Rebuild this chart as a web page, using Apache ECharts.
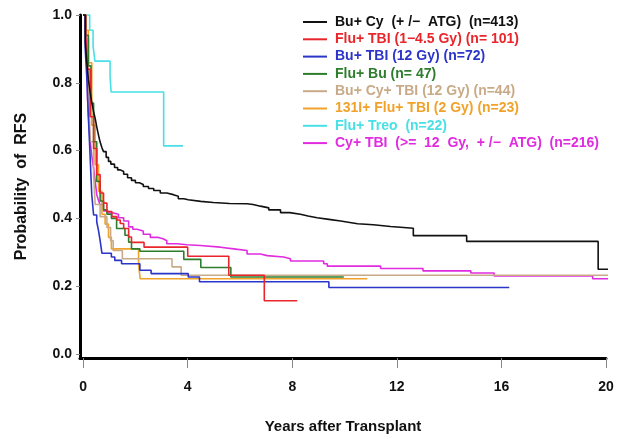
<!DOCTYPE html>
<html>
<head>
<meta charset="utf-8">
<script src="https://cdn.jsdelivr.net/npm/echarts@6/dist/echarts.min.js"></script>
<style>
html,body{margin:0;padding:0;background:#fff;}
#c{width:628px;height:439px;}
</style>
</head>
<body>
<div id="c"></div>
<script>
// Tick labels
const xTicks = [0, 4, 8, 12, 16, 20];
const yTicks = [0, 0.2, 0.4, 0.6, 0.8, 1.0];

// Series names (legend)
const names = [
  "Bu+ Cy  (+ /−  ATG)  (n=413)",
  "Flu+ TBI (1−4.5 Gy) (n= 101)",
  "Bu+ TBI (12 Gy) (n=72)",
  "Flu+ Bu (n= 47)",
  "Bu+ Cy+ TBI (12 Gy) (n=44)",
  "131I+ Flu+ TBI (2 Gy) (n=23)",
  "Flu+ Treo  (n=22)",
  "Cy+ TBI  (>=  12  Gy,  + /−  ATG)  (n=216)"
];

// Bu+Cy
const bucyT = [0, 0.08, 0.14, 0.2, 0.27, 0.33, 0.4, 0.46, 0.52, 0.59, 0.65, 0.72, 0.78, 0.88, 0.97, 1.06, 1.2, 1.32, 1.42, 1.55, 1.7, 1.85, 2.0, 2.15, 2.3, 2.5, 2.7, 2.95, 3.2, 3.45, 3.64, 3.85, 4.02, 4.5, 4.98, 5.6, 6.27, 6.5, 6.78, 7.1, 7.55, 7.9, 8.31, 8.6, 8.95, 9.4, 9.85, 10.2, 10.5, 11.1, 11.76, 12.63, 14.67, 19.7, 20.1];
const bucyS = [1.0, 0.92, 0.86, 0.81, 0.77, 0.742, 0.715, 0.695, 0.67, 0.645, 0.625, 0.608, 0.597, 0.58, 0.568, 0.56, 0.55, 0.543, 0.538, 0.53, 0.52, 0.512, 0.505, 0.5, 0.494, 0.488, 0.482, 0.475, 0.47, 0.465, 0.458, 0.455, 0.45, 0.447, 0.444, 0.443, 0.441, 0.436, 0.431, 0.425, 0.417, 0.412, 0.407, 0.402, 0.397, 0.392, 0.388, 0.384, 0.381, 0.376, 0.371, 0.349, 0.332, 0.25, 0.25];
// Flu+TBI (1-4.5 Gy)
const flutbiT = [0, 0.1, 0.17, 0.27, 0.4, 0.52, 0.65, 0.78, 0.91, 1.1, 1.29, 1.42, 1.55, 1.74, 1.85, 2.33, 4.0, 5.57, 6.93, 8.19];
const flutbiS = [1.0, 0.93, 0.84, 0.70, 0.606, 0.529, 0.475, 0.445, 0.42, 0.405, 0.395, 0.385, 0.37, 0.345, 0.329, 0.315, 0.288, 0.232, 0.157, 0.157];
// Bu+TBI (12 Gy)
const butbiT = [0, 0.08, 0.15, 0.2, 0.27, 0.33, 0.4, 0.52, 0.59, 0.65, 0.72, 1.08, 1.21, 1.47, 2.17, 2.6, 4.02, 4.45, 9.4, 16.3];
const butbiS = [1.0, 0.9, 0.8, 0.70, 0.577, 0.47, 0.41, 0.39, 0.363, 0.334, 0.297, 0.286, 0.276, 0.266, 0.247, 0.237, 0.227, 0.213, 0.196, 0.196];
// Flu+Bu
const flubuT = [0, 0.1, 0.2, 0.3, 0.4, 0.52, 0.65, 0.78, 0.91, 1.08, 1.28, 1.6, 1.74, 1.85, 2.17, 3.85, 4.5, 5.65, 9.97];
const flubuS = [1.0, 0.94, 0.85, 0.74, 0.626, 0.509, 0.451, 0.425, 0.412, 0.40, 0.37, 0.35, 0.33, 0.31, 0.303, 0.279, 0.255, 0.227, 0.227];
// Bu+Cy+TBI (12 Gy)
const bucytbiT = [0, 0.1, 0.2, 0.27, 0.4, 0.46, 0.65, 0.91, 1.05, 1.15, 1.5, 3.4, 3.75, 20.15];
const bucytbiS = [1.0, 0.93, 0.8, 0.626, 0.529, 0.441, 0.405, 0.373, 0.334, 0.305, 0.281, 0.257, 0.232, 0.232];
// 131I+Flu+TBI (2 Gy)
const iflutbiT = [0, 0.1, 0.2, 0.33, 0.46, 0.59, 0.72, 0.84, 0.97, 1.08, 2.12, 2.18, 10.87];
const iflutbiS = [1.0, 0.955, 0.859, 0.675, 0.558, 0.48, 0.412, 0.383, 0.344, 0.31, 0.265, 0.222, 0.222];
// Flu+Treo
const flutreoT = [0, 0.25, 0.38, 0.45, 1.03, 1.07, 3.08, 3.82];
const flutreoS = [1.0, 0.955, 0.909, 0.864, 0.818, 0.773, 0.614, 0.614];
// Cy+TBI (>=12 Gy)
const cytbiT = [0, 0.08, 0.14, 0.17, 0.22, 0.27, 0.33, 0.4, 0.46, 0.52, 0.58, 0.65, 0.78, 0.95, 1.16, 1.35, 1.55, 1.74, 1.9, 2.06, 2.3, 2.57, 2.85, 3.08, 3.2, 3.6, 3.97, 4.48, 5.25, 5.76, 6.27, 6.78, 7.04, 7.67, 7.93, 9.2, 9.34, 11.38, 13.0, 14.83, 15.72, 19.49, 20.15];
const cytbiS = [1.0, 0.96, 0.917, 0.75, 0.68, 0.626, 0.585, 0.548, 0.51, 0.47, 0.455, 0.44, 0.422, 0.416, 0.412, 0.402, 0.392, 0.375, 0.368, 0.363, 0.353, 0.344, 0.339, 0.334, 0.325, 0.322, 0.32, 0.315, 0.31, 0.305, 0.295, 0.29, 0.286, 0.281, 0.274, 0.266, 0.259, 0.252, 0.245, 0.239, 0.23, 0.222, 0.222];

const colors = ['#111111', '#e8262b', '#2b35c8', '#2d7d2d', '#c9aa88', '#f0a22a', '#48e0e6', '#e02ce0'];
const times = [bucyT, flutbiT, butbiT, flubuT, bucytbiT, iflutbiT, flutreoT, cytbiT];
const surv = [bucyS, flutbiS, butbiS, flubuS, bucytbiS, iflutbiS, flutreoS, cytbiS];

function zip(t, s) { return t.map((v, i) => [v, s[i]]); }

const series = names.map((n, i) => ({
  name: n,
  type: 'line',
  step: 'end',
  symbol: 'none',
  data: zip(times[i], surv[i]),
  lineStyle: { color: colors[i], width: 1.6 },
  itemStyle: { color: colors[i] },
  z: 10 - i,
  clip: false
}));

const font = 'Liberation Sans, Arial, sans-serif';
const chart = echarts.init(document.getElementById('c'), null, { renderer: 'canvas' });
chart.setOption({
  animation: false,
  backgroundColor: '#fff',
  grid: { left: 80, right: 22, top: 15, bottom: 77 },
  legend: {
    orient: 'vertical',
    left: 298,
    top: 10,
    icon: 'rect',
    itemWidth: 24,
    itemHeight: 2,
    itemGap: 3.3,
    data: names.map((n, i) => ({ name: n, textStyle: { color: colors[i] } })),
    textStyle: { fontFamily: font, fontWeight: 'bold', fontSize: 14, lineHeight: 14, padding: [0, 0, 0, 3] }
  },
  xAxis: {
    type: 'value',
    min: -0.12,
    max: 20,
    name: 'Years after Transplant',
    nameLocation: 'middle',
    nameGap: 61,
    nameTextStyle: { fontFamily: font, fontWeight: 'bold', fontSize: 15, color: '#111' },
    axisLine: { show: true, onZero: false, lineStyle: { color: '#000', width: 3 } },
    axisTick: { show: true, customValues: xTicks, length: 10, lineStyle: { color: '#888', width: 1 } },
    axisLabel: { customValues: xTicks, margin: 22, fontFamily: font, fontWeight: 'bold', fontSize: 14, color: '#111', formatter: v => String(v) },
    splitLine: { show: false }
  },
  yAxis: {
    type: 'value',
    min: -0.012,
    max: 1.0,
    name: 'Probability  of  RFS',
    nameLocation: 'middle',
    nameGap: 50,
    nameTextStyle: { fontFamily: font, fontWeight: 'bold', fontSize: 16, color: '#111' },
    axisLine: { show: true, onZero: false, lineStyle: { color: '#000', width: 3 } },
    axisTick: { show: true, customValues: yTicks, length: 4, lineStyle: { color: '#888', width: 1 } },
    axisLabel: { customValues: yTicks, margin: 8, fontFamily: font, fontWeight: 'bold', fontSize: 14, color: '#111', formatter: v => v.toFixed(1) },
    splitLine: { show: false }
  },
  series: series
});
</script>
</body>
</html>
